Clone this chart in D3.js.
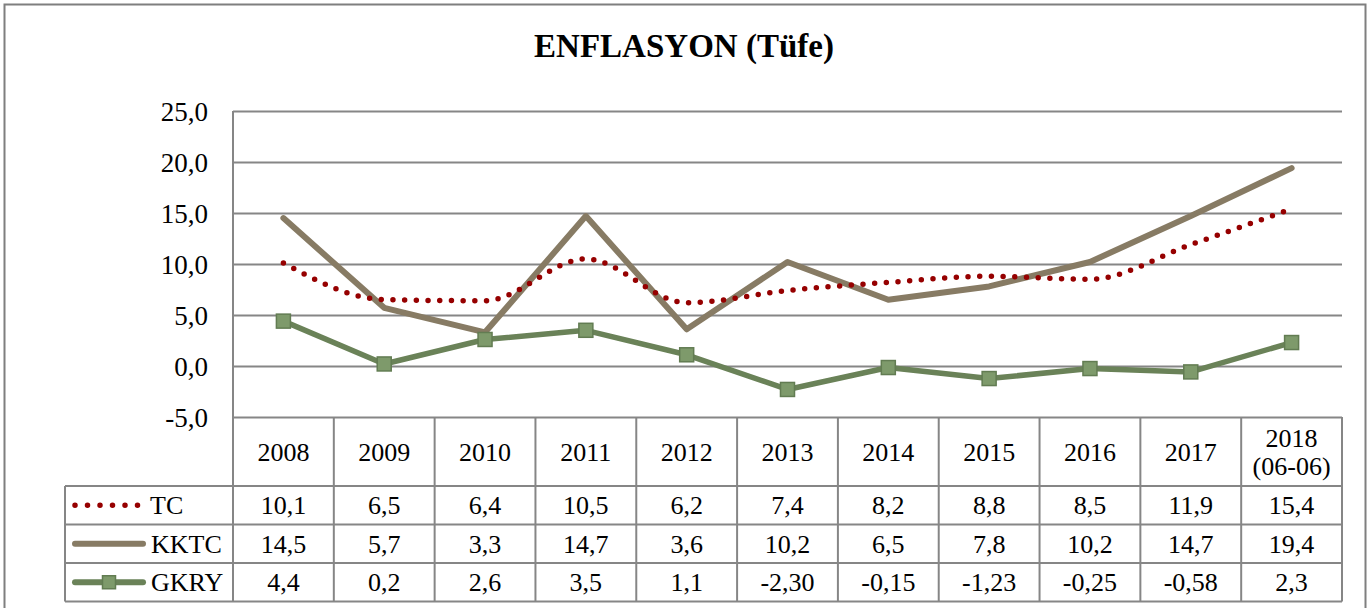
<!DOCTYPE html>
<html>
<head>
<meta charset="utf-8">
<script src="https://cdn.jsdelivr.net/npm/d3@7"></script>
<style>
  html, body { margin: 0; padding: 0; background: #fff; }
  svg { display: block; }
</style>
</head>
<body>
<svg id="chart" width="1370" height="608" font-family="Liberation Serif, DejaVu Serif, serif"></svg>
<script>
// categories (table header) and table cells
const years = ["2008", "2009", "2010", "2011", "2012", "2013", "2014", "2015", "2016", "2017", "2018\n(06-06)"];
const tcCells   = ["10,1", "6,5", "6,4", "10,5", "6,2", "7,4", "8,2", "8,8", "8,5", "11,9", "15,4"];
const kktcCells = ["14,5", "5,7", "3,3", "14,7", "3,6", "10,2", "6,5", "7,8", "10,2", "14,7", "19,4"];
const gkryCells = ["4,4", "0,2", "2,6", "3,5", "1,1", "-2,30", "-0,15", "-1,23", "-0,25", "-0,58", "2,3"];
const yTicks = [-5, 0, 5, 10, 15, 20, 25];

const FONT = "Liberation Serif, DejaVu Serif, serif";
const toNum = s => +s.replace(",", ".");
const series = [
    { name: "TC",   cells: tcCells,   color: "#960000", kind: "dots" },
    { name: "KKTC", cells: kktcCells, color: "#877b64", kind: "line" },
    { name: "GKRY", cells: gkryCells, color: "#6a8258", kind: "marker" }
];
series.forEach(s => s.values = s.cells.map(toNum));

const svg = d3.select("#chart");
const gridColor = "#868686";

// dış çerçeve
svg.append("rect")
    .attr("x", 4.5).attr("y", 4.5)
    .attr("width", 1361).attr("height", 640)
    .attr("fill", "none").attr("stroke", "#7f7f7f").attr("stroke-width", 2);

svg.append("text")
    .attr("x", 684).attr("y", 57)
    .attr("text-anchor", "middle")
    .attr("font-family", FONT)
    .attr("font-size", 33).attr("font-weight", "bold")
    .text("ENFLASYON (Tüfe)");

const plotLeft = 233, plotRight = 1342, plotTop = 111, plotBottom = 417;
const headerBottom = 486, rowH = 38.5;
const legendLeft = 65;

const x = d3.scaleBand().domain(years).range([plotLeft, plotRight]).padding(0);
const y = d3.scaleLinear().domain([-5, 25]).range([plotBottom, plotTop]);

// yatay grid + y ekseni etiketleri
const yAxis = d3.axisLeft(y)
    .tickValues(yTicks)
    .tickSize(-(plotRight - plotLeft))
    .tickPadding(25)
    .tickFormat(d => d3.format(".1f")(d).replace(".", ",").replace("\u2212", "-"));

const yG = svg.append("g")
    .attr("transform", `translate(${plotLeft},0)`)
    .call(yAxis)
    .attr("font-family", FONT)
    .attr("font-size", 27);
yG.select(".domain").remove();
yG.selectAll(".tick line").attr("stroke", gridColor).attr("stroke-width", 2);
yG.selectAll(".tick text")
    .attr("fill", "#000")
    .attr("dy", "0.34em");

// tablo çizgileri
const tableBottom = headerBottom + rowH * 3;
const lines = svg.append("g").attr("stroke", gridColor).attr("stroke-width", 2);
// y ekseni
lines.append("line").attr("x1", plotLeft).attr("x2", plotLeft).attr("y1", plotTop).attr("y2", tableBottom);
// kolon ayırıcılar
years.forEach(yr => {
    const xx = x(yr) + x.bandwidth();
    lines.append("line").attr("x1", xx).attr("x2", xx).attr("y1", plotBottom).attr("y2", tableBottom);
});
// satır çizgileri
for (let r = 0; r <= 3; r++) {
    const yy = headerBottom + rowH * r;
    lines.append("line").attr("x1", legendLeft).attr("x2", plotRight).attr("y1", yy).attr("y2", yy);
}
lines.append("line").attr("x1", legendLeft).attr("x2", legendLeft).attr("y1", headerBottom).attr("y2", tableBottom);

// başlık satırı
const header = svg.append("g").attr("font-size", 26).attr("font-family", FONT).attr("text-anchor", "middle");
years.forEach(yr => {
    const parts = yr.split("\n");
    const cx = x(yr) + x.bandwidth() / 2;
    const cy = (plotBottom + headerBottom) / 2;
    parts.forEach((p, k) => {
        header.append("text")
            .attr("x", cx)
            .attr("y", cy + (k - (parts.length - 1) / 2) * 28)
            .attr("dy", "0.35em")
            .text(p);
    });
});

// değer satırları + lejant
series.forEach((s, r) => {
    const cy = headerBottom + rowH * r + rowH / 2;
    const rowG = svg.append("g").attr("font-size", 26).attr("font-family", FONT);
    s.cells.forEach((c, i) => {
        rowG.append("text")
            .attr("x", x(years[i]) + x.bandwidth() / 2)
            .attr("y", cy).attr("dy", "0.35em")
            .attr("text-anchor", "middle")
            .text(c);
    });
    rowG.append("text")
        .attr("x", s.name === "TC" ? 150 : 151)
        .attr("y", cy).attr("dy", "0.35em")
        .text(s.name);

    const lx1 = 75, lx2 = 143;
    if (s.kind === "dots") {
        rowG.append("line")
            .attr("x1", lx1).attr("x2", lx2 + 2).attr("y1", cy).attr("y2", cy)
            .attr("stroke", s.color).attr("stroke-width", 5.5)
            .attr("stroke-linecap", "round").attr("stroke-dasharray", "0,12.5");
    } else {
        rowG.append("line")
            .attr("x1", lx1).attr("x2", lx2).attr("y1", cy).attr("y2", cy)
            .attr("stroke", s.color).attr("stroke-width", 6)
            .attr("stroke-linecap", "round");
        if (s.kind === "marker") {
            rowG.append("rect")
                .attr("x", 109 - 6.5).attr("y", cy - 6.5)
                .attr("width", 13).attr("height", 13)
                .attr("fill", "#7e9a6b").attr("stroke", "#627c52").attr("stroke-width", 1.5);
        }
    }
});

// seriler
const cx = i => x(years[i]) + x.bandwidth() / 2;
const plotG = svg.append("g");

// KKTC
const kk = series[1];
plotG.append("path")
    .datum(kk.values)
    .attr("d", d3.line().x((d, i) => cx(i)).y(d => y(d)))
    .attr("fill", "none").attr("stroke", kk.color)
    .attr("stroke-width", 6).attr("stroke-linejoin", "round").attr("stroke-linecap", "round");

// TC (yumuşatılmış, noktalı)
const tc = series[0];
plotG.append("path")
    .datum(tc.values)
    .attr("d", d3.line().x((d, i) => cx(i)).y(d => y(d)).curve(d3.curveMonotoneX))
    .attr("fill", "none").attr("stroke", tc.color)
    .attr("stroke-width", 5.5).attr("stroke-linecap", "round")
    .attr("stroke-dasharray", "0,11.7");

// GKRY
const gk = series[2];
plotG.append("path")
    .datum(gk.values)
    .attr("d", d3.line().x((d, i) => cx(i)).y(d => y(d)))
    .attr("fill", "none").attr("stroke", gk.color)
    .attr("stroke-width", 5.5).attr("stroke-linejoin", "round").attr("stroke-linecap", "round");
plotG.selectAll(".mk")
    .data(gk.values)
    .enter().append("rect")
    .attr("class", "mk")
    .attr("x", (d, i) => cx(i) - 7).attr("y", d => y(d) - 7)
    .attr("width", 14).attr("height", 14)
    .attr("fill", "#7e9a6b").attr("stroke", "#627c52").attr("stroke-width", 1.5);
</script>
</body>
</html>
